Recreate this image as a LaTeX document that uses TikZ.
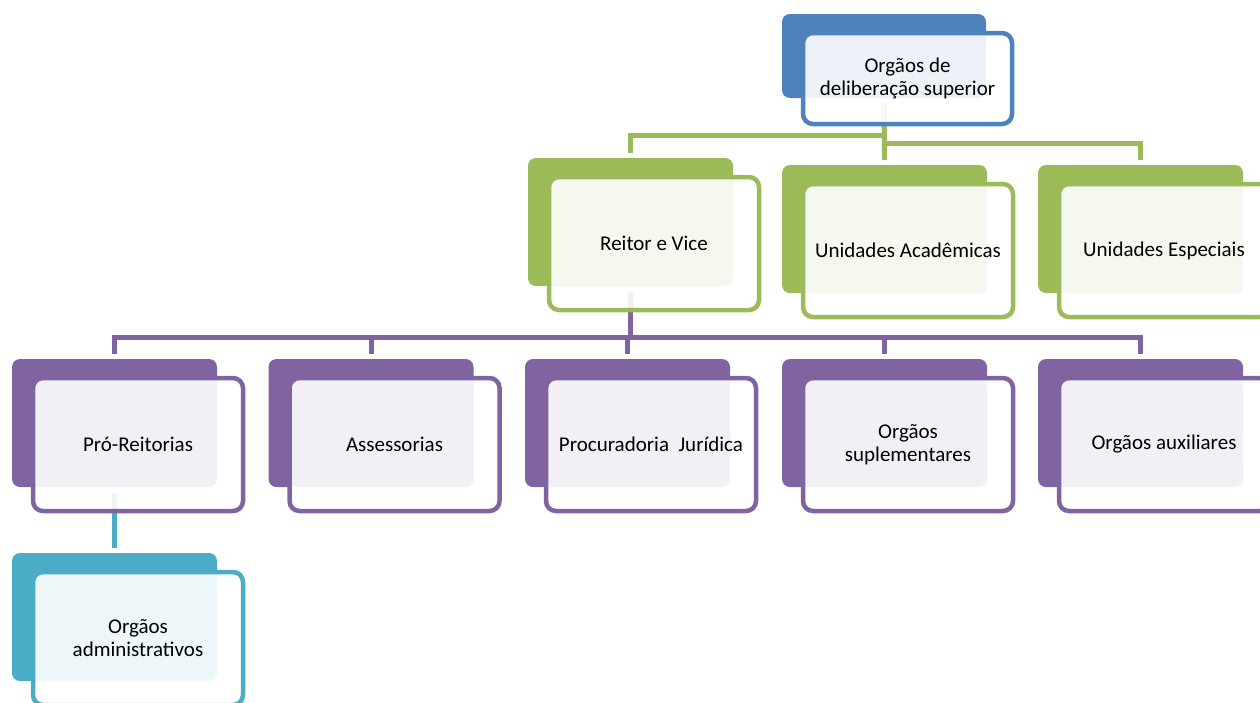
\documentclass[tikz,border=0pt]{standalone}
\usepackage{fontspec}
\setmainfont{Carlito}
\usetikzlibrary{calc}
\definecolor{cblue}{HTML}{4F81BD}
\definecolor{cgreen}{HTML}{9BBB59}
\definecolor{cpurple}{HTML}{8064A2}
\definecolor{cteal}{HTML}{4BACC6}
\pgfdeclarelayer{bg}
\pgfsetlayers{bg,main}
\begin{document}
\begin{tikzpicture}[x=1pt,y=-1pt,
  back/.style={rectangle, draw=none, fill=#1, rounded corners=8pt,
    minimum width=205pt, minimum height=128pt, inner sep=0pt, outer sep=0pt, anchor=north west},
  tback/.style={back=#1, minimum width=204pt, minimum height=84pt},
  front/.style={rectangle, draw=#1, line width=4.5pt, fill=white, fill opacity=0.9, text opacity=1,
    rounded corners=10pt, minimum width=210pt, minimum height=133pt, inner sep=0pt, outer sep=0pt,
    anchor=north west, align=center, text=black, font=\fontsize{21}{23}\selectfont},
  tfront/.style={front=#1, minimum width=209pt, minimum height=91pt},
  conn/.style={line width=5pt, draw=#1}
]
\useasboundingbox (0,0) rectangle (1260,702);

% top level
\node[tback=cblue] (tb) at (782,14) {};
\node[tfront=cblue] (t) at ($(tb.north west)+(21,19)$) {Orgãos de\\deliberação superior};

% second row
\node[back=cgreen] (rvb) at (528,158) {};
\node[front=cgreen] (rv) at ($(rvb.north west)+(21,19)$) {Reitor e Vice};
\node[back=cgreen] (uab) at (782,165) {};
\node[front=cgreen] (ua) at ($(uab.north west)+(21,19)$) {Unidades Acadêmicas};
\node[back=cgreen] (ueb) at (1038,165) {};
\node[front=cgreen] (ue) at ($(ueb.north west)+(21,19)$) {Unidades Especiais};

% third row
\node[back=cpurple] (prb) at (12,359) {};
\node[front=cpurple] (pr) at ($(prb.north west)+(21,19)$) {Pró-Reitorias};
\node[back=cpurple] (asb) at (268.5,359) {};
\node[front=cpurple] (as) at ($(asb.north west)+(21,19)$) {Assessorias};
\node[back=cpurple] (pjb) at (525,359) {};
\node[front=cpurple] (pj) at ($(pjb.north west)+(21,19)$) {Procuradoria\ \ Jurídica};
\node[back=cpurple] (osb) at (782,359) {};
\node[front=cpurple] (os) at ($(osb.north west)+(21,19)$) {Orgãos\\suplementares};
\node[back=cpurple] (oab) at (1038,359) {};
\node[front=cpurple] (oa) at ($(oab.north west)+(21,19)$) {Orgãos auxiliares};

% fourth row
\node[back=cteal] (admb) at (12,553) {};
\node[front=cteal] (adm) at ($(admb.north west)+(21,19)$) {Orgãos\\administrativos};

% connectors
\begin{pgfonlayer}{bg}
  \draw[conn=cgreen] ($(tb.south)+(0,5)$) -- ($(uab.north)+(0,-5)$);
  \draw[conn=cgreen] ($(tb.south)+(0,5)$) -- ++(0,32) -| ($(rvb.north)+(0,-5)$);
  \draw[conn=cgreen] ($(tb.south)+(0,5)$) -- ++(0,40) -| ($(ueb.north)+(0,-5)$);
  \foreach \c in {prb,asb,pjb,osb,oab}
    \draw[conn=cpurple] ($(rvb.south)+(0,6)$) -- ++(0,45) -| ($(\c.north)+(0,-5)$);
  \draw[conn=cteal] ($(prb.south)+(0,6)$) -- ($(admb.north)+(0,-5)$);
\end{pgfonlayer}
\end{tikzpicture}
\end{document}
